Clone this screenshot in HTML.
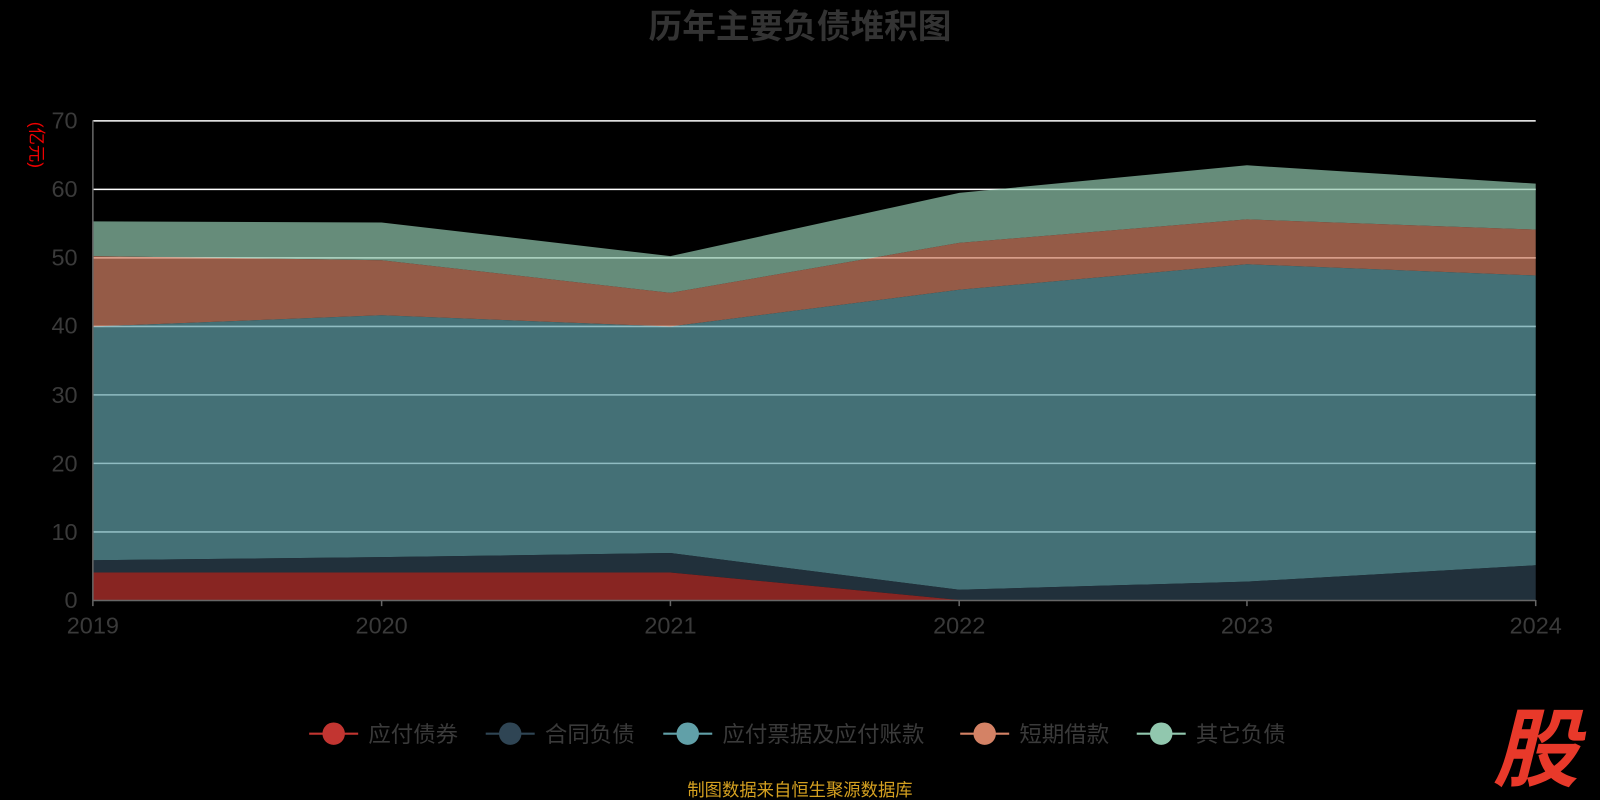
<!DOCTYPE html>
<html><head><meta charset="utf-8"><style>
html,body{margin:0;padding:0;background:#000;}
svg{display:block;}
svg text{font-family:"Liberation Sans","Noto Sans CJK SC",sans-serif;}
</style></head><body>
<svg width="1600" height="800" viewBox="0 0 1568 784" preserveAspectRatio="none" xmlns="http://www.w3.org/2000/svg">
<rect width="1568" height="784" fill="#000"/>
<text x="784" y="37" text-anchor="middle" font-size="33" font-weight="bold" fill="#333">历年主要负债堆积图</text>
<text transform="translate(30,142) rotate(90)" text-anchor="middle" font-size="17" fill="#e00">(亿元)</text>
<g stroke="#fff" stroke-width="1.5">
<line x1="91" y1="118.5" x2="1505" y2="118.5"/>
<line x1="91" y1="185.6" x2="1505" y2="185.6"/>
<line x1="91" y1="252.7" x2="1505" y2="252.7"/>
<line x1="91" y1="319.9" x2="1505" y2="319.9"/>
<line x1="91" y1="387" x2="1505" y2="387"/>
<line x1="91" y1="454.1" x2="1505" y2="454.1"/>
<line x1="91" y1="521.3" x2="1505" y2="521.3"/>
</g>
<g fill-opacity="0.7">
<polygon fill="#91c7ae" points="91,217 374,218 657,251 940,189 1222,162 1505,180 1505,225 1222,215 940,238 657,287 374,255 91,251"/>
<polygon fill="#d48265" points="91,251 374,255 657,287 940,238 1222,215 1505,225 1505,270 1222,259 940,284 657,320 374,309 91,320"/>
<polygon fill="#61a0a8" points="91,320 374,309 657,320 940,284 1222,259 1505,270 1505,554 1222,570 940,578 657,542 374,546 91,549"/>
<polygon fill="#2f4554" points="91,549 374,546 657,542 940,578 1222,570 1505,554 1505,588 1222,588 940,588 657,561 374,561 91,561"/>
<polygon fill="#c23531" points="91,561 374,561 657,561 940,588 91,588"/>
</g>
<g stroke="#666" stroke-width="1.5">
<line x1="91" y1="118" x2="91" y2="588"/>
<line x1="91" y1="588.5" x2="1505" y2="588.5"/>
<line x1="91" y1="588" x2="91" y2="594"/><line x1="374" y1="588" x2="374" y2="594"/><line x1="657" y1="588" x2="657" y2="594"/><line x1="940" y1="588" x2="940" y2="594"/><line x1="1222" y1="588" x2="1222" y2="594"/><line x1="1505" y1="588" x2="1505" y2="594"/>
</g>
<g font-size="23" fill="#3a3a3a" text-anchor="end">
<text x="76" y="126">70</text><text x="76" y="193">60</text><text x="76" y="260">50</text><text x="76" y="327">40</text><text x="76" y="395">30</text><text x="76" y="462">20</text><text x="76" y="529">10</text><text x="76" y="596">0</text>
</g>
<g font-size="23" fill="#3a3a3a" text-anchor="middle">
<text x="91" y="621">2019</text><text x="374" y="621">2020</text><text x="657" y="621">2021</text><text x="940" y="621">2022</text><text x="1222" y="621">2023</text><text x="1505" y="621">2024</text>
</g>
<g font-size="22" fill="#3a3a3a">
<line x1="303" y1="719" x2="351" y2="719" stroke="#c23531" stroke-width="2"/><circle cx="327" cy="719" r="11" fill="#c23531"/><text x="361" y="727">应付债券</text>
<line x1="476" y1="719" x2="524" y2="719" stroke="#2f4554" stroke-width="2"/><circle cx="500" cy="719" r="11" fill="#2f4554"/><text x="534" y="727">合同负债</text>
<line x1="650" y1="719" x2="698" y2="719" stroke="#61a0a8" stroke-width="2"/><circle cx="674" cy="719" r="11" fill="#61a0a8"/><text x="708" y="727">应付票据及应付账款</text>
<line x1="941" y1="719" x2="989" y2="719" stroke="#d48265" stroke-width="2"/><circle cx="965" cy="719" r="11" fill="#d48265"/><text x="999" y="727">短期借款</text>
<line x1="1114" y1="719" x2="1162" y2="719" stroke="#91c7ae" stroke-width="2"/><circle cx="1138" cy="719" r="11" fill="#91c7ae"/><text x="1172" y="727">其它负债</text>
</g>
<text x="784" y="780" text-anchor="middle" font-size="17" fill="#d4a020">制图数据来自恒生聚源数据库</text>
<text x="1505" y="764" text-anchor="middle" font-size="84" font-weight="bold" font-style="italic" fill="#e8392a">股</text>
</svg>
</body></html>
